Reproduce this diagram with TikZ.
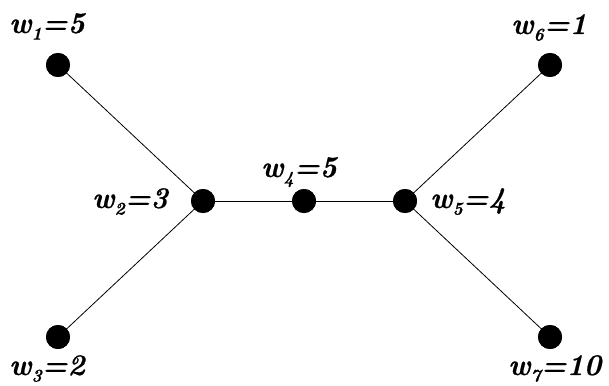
\documentclass[tikz,border=0pt]{standalone}
\usepackage{fontspec}
\usepackage{graphicx}
\newfontfamily\lblfont{lmroman10-bolditalic.otf}[FakeBold=0.6]
\newcommand\sbs[1]{\raisebox{-0.22em}{\fontsize{18}{18}\selectfont #1}}
\newcommand\wlab[2]{\scalebox{0.97}[1]{w\sbs{#1}=#2}}
\tikzset{
  vtx/.style={circle,fill=black,inner sep=0pt,minimum size=24pt},
  edge/.style={line width=0.8pt},
  lbl/.style={anchor=base west,inner sep=0pt,font=\fontsize{30}{33}\selectfont\lblfont}
}
\begin{document}
\begin{tikzpicture}[x=1pt,y=-1pt]
\useasboundingbox (0,0) rectangle (609,385);
\node[vtx] (v1) at (58,65) {};
\node[vtx] (v2) at (203,201) {};
\node[vtx] (v3) at (58,337) {};
\node[vtx] (v4) at (304,201) {};
\node[vtx] (v5) at (405,201) {};
\node[vtx] (v6) at (550,65) {};
\node[vtx] (v7) at (550,337) {};
\draw[edge] (v1.center) -- (v2.center);
\draw[edge] (v3.center) -- (v2.center);
\draw[edge] (v2.center) -- (v4.center);
\draw[edge] (v4.center) -- (v5.center);
\draw[edge] (v5.center) -- (v6.center);
\draw[edge] (v5.center) -- (v7.center);
\node[vtx] at (v1) {};
\node[vtx] at (v2) {};
\node[vtx] at (v3) {};
\node[vtx] at (v4) {};
\node[vtx] at (v5) {};
\node[vtx] at (v6) {};
\node[vtx] at (v7) {};
\node[lbl] (l1) at (9,33) {\wlab{1}{5}};
\node[lbl] (l2) at (92,208) {\wlab{2}{3}};
\node[lbl] (l3) at (9,375) {\wlab{3}{2}};
\node[lbl] (l4) at (261,177) {\wlab{4}{5}};
\node[lbl] (l5) at (430,208) {\wlab{5}{4}};
\node[lbl] (l6) at (511,34) {\wlab{6}{1}};
\node[lbl] (l7) at (508,375) {\wlab{7}{10}};
\end{tikzpicture}
\end{document}
